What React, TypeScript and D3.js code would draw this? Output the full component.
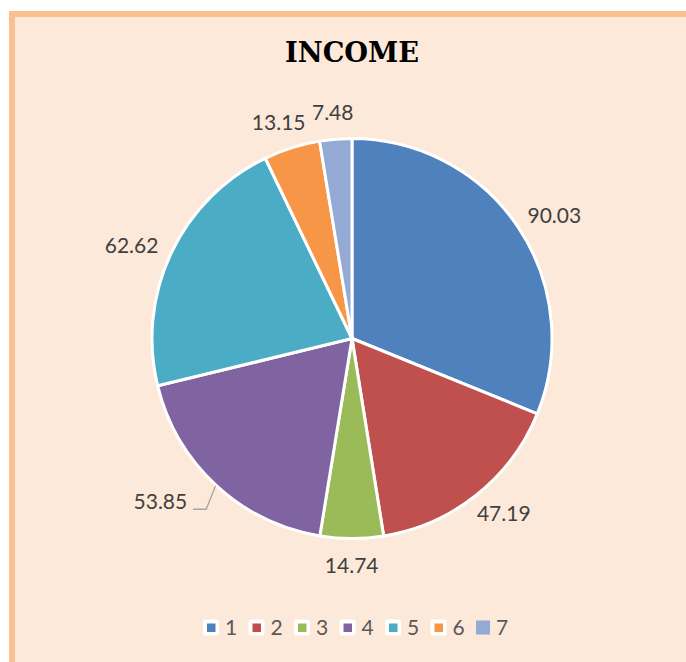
import React, { useRef, useEffect } from 'react';
import * as d3 from 'd3';

// data
const categories = ['1', '2', '3', '4', '5', '6', '7'];
const income = [90.03, 47.19, 14.74, 53.85, 62.62, 13.15, 7.48];
const colors = ['#4F81BD', '#C0504D', '#9BBB59', '#8064A2', '#4BACC6', '#F79646', '#94A9D4'];
const title = 'INCOME';

const W = 686, H = 662;
// the label of slice 4 was dragged out in the original, so it gets a leader line
const leaderIndex = 3;

export default function App() {
    const svg_ref = useRef<SVGSVGElement>(null);
    useEffect(() => draw(svg_ref.current as SVGSVGElement), []);
    return (
        <svg ref={svg_ref} width={W} height={H}
            style={{ position: 'absolute', left: 0, top: 0, background: '#fff' }} />
    );
}

function draw(node: SVGSVGElement) {
    const svg = d3.select(node);
    svg.selectAll('*').remove();

    const cx = 352, cy = 338.5, r = 200, gap = 17;

    // frame (runs off the right and bottom of the window)
    svg.append('rect')
        .attr('x', 12).attr('y', 14)
        .attr('width', W + 20).attr('height', H + 20)
        .attr('fill', '#FDE9D9')
        .attr('stroke', '#FAC090')
        .attr('stroke-width', 6);

    svg.append('text')
        .attr('x', cx).attr('y', 62)
        .attr('text-anchor', 'middle')
        .attr('font-family', '"DejaVu Serif", serif')
        .attr('font-weight', 'bold')
        .attr('font-size', 27.5)
        .attr('textLength', 134)
        .attr('lengthAdjust', 'spacingAndGlyphs')
        .attr('fill', '#000')
        .text(title);

    const rows = categories.map((c, i) => ({ name: c, val: income[i], color: colors[i] }));
    const pie = d3.pie<typeof rows[0]>().sort(null).value(d => d.val);
    const arcs = pie(rows);
    const arc = d3.arc<d3.PieArcDatum<typeof rows[0]>>().innerRadius(0).outerRadius(r);

    const g = svg.append('g').attr('transform', `translate(${cx},${cy})`);
    g.selectAll('path.slice')
        .data(arcs)
        .join('path')
        .attr('class', 'slice')
        .attr('d', arc)
        .attr('fill', d => d.data.color)
        .attr('stroke', '#fff')
        .attr('stroke-width', 3)
        .attr('stroke-linejoin', 'round');

    // data labels, outside end
    const fs = 21, capH = fs * 0.72, boxH = 20;
    arcs.forEach((d, i) => {
        const a = (d.startAngle + d.endAngle) / 2;
        const sin = Math.sin(a), cos = Math.cos(a);
        const t = g.append('text')
            .attr('font-family', 'Lato, "Open Sans", sans-serif')
            .attr('font-size', fs)
            .attr('fill', '#404040')
            .attr('text-anchor', 'middle')
            .text(d.data.val.toFixed(2));
        const w = (t.node() as SVGTextElement).getComputedTextLength();
        let lx = (r + gap) * sin + sin * w / 2;
        const ly = -(r + gap) * cos - cos * cos * cos * boxH / 2;
        if (i === leaderIndex) lx -= 26;
        const base = ly + capH / 2;
        t.attr('x', lx).attr('y', base);

        if (i === leaderIndex) {
            const right = lx + w / 2;
            const pts: [number, number][] = [
                [(r + 1) * sin, -(r + 1) * cos],
                [right + 19, base],
                [right + 6, base]
            ];
            g.append('path')
                .attr('d', d3.line()(pts))
                .attr('fill', 'none')
                .attr('stroke', '#A6A6A6')
                .attr('stroke-width', 1.3);
        }
    });

    // legend
    const step = 45.5, legendY = 627.5;
    const legendX = cx - step * 3 - 12.5;
    const lg = svg.append('g');
    categories.forEach((c, i) => {
        const mx = legendX + i * step;
        const item = lg.append('g').attr('transform', `translate(${mx},${legendY})`);
        if (i < categories.length - 1) {
            item.append('rect')
                .attr('x', 0).attr('y', -8).attr('width', 16).attr('height', 16)
                .attr('rx', 2).attr('fill', '#fff');
            item.append('rect')
                .attr('x', 4).attr('y', -4).attr('width', 8.5).attr('height', 8.5)
                .attr('fill', colors[i]);
        } else {
            item.append('rect')
                .attr('x', 0).attr('y', -7).attr('width', 14).attr('height', 14)
                .attr('fill', colors[i]);
        }
        item.append('text')
            .attr('x', i < categories.length - 1 ? 22 : 20)
            .attr('y', 7)
            .attr('font-family', 'Lato, "Open Sans", sans-serif')
            .attr('font-size', fs)
            .attr('fill', '#595959')
            .text(c);
    });
}
